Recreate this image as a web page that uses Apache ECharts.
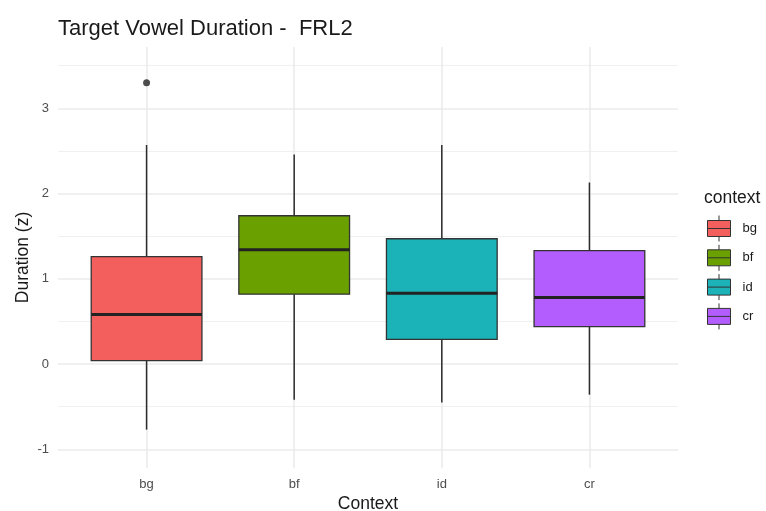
<!DOCTYPE html>
<html>
<head>
<meta charset="utf-8">
<title>Target Vowel Duration - FRL2</title>
<script src="https://cdn.jsdelivr.net/npm/echarts@6/dist/echarts.min.js"></script>
<style>
	html, body { margin: 0; padding: 0; background: #ffffff; }
	#box { width: 766px; height: 511px; }
</style>
</head>
<body>
<div id="box"></div>
<script>
// values
var categories = ['bg', 'bf', 'id', 'cr'];
var lowWhisker = [-0.77, -0.42, -0.45, -0.36];
var q1 = [0.04, 0.82, 0.29, 0.44];
var median = [0.58, 1.34, 0.83, 0.78];
var q3 = [1.26, 1.74, 1.47, 1.33];
var highWhisker = [2.57, 2.46, 2.57, 2.13];
var outliers = [['bg', 3.30]];
var colors = ['#F25F5C', '#6AA100', '#1BB3B8', '#B45DFF'];

var boxWidth = 0.75;
var fontFamily = '"Liberation Sans", Arial, sans-serif';

function renderBox(params, api) {
	var x = api.value(0);
	var half = api.size([boxWidth, 0])[0] / 2;
	var pLo = api.coord([x, api.value(1)]);
	var pQ1 = api.coord([x, api.value(2)]);
	var pMed = api.coord([x, api.value(3)]);
	var pQ3 = api.coord([x, api.value(4)]);
	var pHi = api.coord([x, api.value(5)]);
	var color = api.visual('color');
	return {
		type: 'group',
		children: [
			{
				type: 'line',
				shape: { x1: pLo[0], y1: pLo[1], x2: pQ1[0], y2: pQ1[1] },
				style: { stroke: '#2b2b2b', lineWidth: 1.5 }
			},
			{
				type: 'line',
				shape: { x1: pQ3[0], y1: pQ3[1], x2: pHi[0], y2: pHi[1] },
				style: { stroke: '#2b2b2b', lineWidth: 1.5 }
			},
			{
				type: 'rect',
				shape: { x: pQ3[0] - half, y: pQ3[1], width: half * 2, height: pQ1[1] - pQ3[1] },
				style: { fill: color, stroke: '#333333', lineWidth: 1.3 }
			},
			{
				type: 'line',
				shape: { x1: pMed[0] - half, y1: pMed[1], x2: pMed[0] + half, y2: pMed[1] },
				style: { stroke: '#222222', lineWidth: 3 }
			}
		]
	};
}

var series = [];
for (var i = 0; i < categories.length; i++) {
	series.push({
		name: categories[i],
		type: 'custom',
		xAxisIndex: 0,
		yAxisIndex: 0,
		renderItem: renderBox,
		encode: { x: 0, y: [1, 2, 3, 4, 5] },
		itemStyle: { color: colors[i], borderColor: '#333333', borderWidth: 1 },
		data: [[i + 1, lowWhisker[i], q1[i], median[i], q3[i], highWhisker[i]]],
		z: 3
	});
}

var outlierData = [];
for (var k = 0; k < outliers.length; k++) {
	outlierData.push([categories.indexOf(outliers[k][0]) + 1, outliers[k][1]]);
}
series.push({
	name: 'outlier',
	type: 'scatter',
	xAxisIndex: 0,
	yAxisIndex: 0,
	symbol: 'circle',
	symbolSize: 7,
	itemStyle: { color: '#222222' },
	data: outlierData,
	z: 4
});

// legend key: box with median and whisker stubs
var legendIcon = 'path://M0,5 L23,5 L23,21 L0,21 Z M0,13 L23,13 M11.5,0 L11.5,5 M11.5,21 L11.5,26';

var myChart = echarts.init(document.getElementById('box'), null, { renderer: 'canvas' });

var option = {
	backgroundColor: '#ffffff',
	animation: false,
	textStyle: { fontFamily: fontFamily },

	title: [
		{
			text: 'Target Vowel Duration -  FRL2',
			left: 53,
			top: 13,
			textStyle: { fontFamily: fontFamily, fontSize: 22, fontWeight: 'normal', color: '#1a1a1a' }
		},
		{
			text: 'context',
			left: 699,
			top: 184,
			textStyle: { fontFamily: fontFamily, fontSize: 17.5, fontWeight: 'normal', color: '#1a1a1a' }
		}
	],

	legend: {
		orient: 'vertical',
		left: 707,
		top: 215,
		padding: 0,
		itemWidth: 23,
		itemHeight: 26,
		itemGap: 2.3,
		icon: legendIcon,
		data: categories,
		itemStyle: { borderColor: '#333333', borderWidth: 1 },
		textStyle: { fontFamily: fontFamily, fontSize: 13, color: '#1a1a1a', padding: [0, 0, 0, 7] },
		selectedMode: false
	},

	grid: {
		left: 58,
		right: 88,
		top: 47,
		bottom: 43,
		containLabel: false,
		outerBoundsMode: 'none'
	},

	xAxis: {
		type: 'value',
		min: 0.4,
		max: 4.6,
		splitNumber: 4,
		name: 'Context',
		nameLocation: 'middle',
		nameGap: 27,
		nameMoveOverlap: false,
		nameTextStyle: { fontFamily: fontFamily, fontSize: 17.5, color: '#1a1a1a' },
		axisLine: { show: false },
		axisTick: { show: false },
		axisLabel: {
			margin: 10,
			fontSize: 13,
			color: '#4d4d4d',
			showMinLabel: false,
			showMaxLabel: false,
			formatter: function(v) {
				var idx = Math.round(v) - 1;
				if (Math.abs(v - Math.round(v)) > 1e-6) return '';
				return categories[idx] || '';
			}
		},
		splitLine: {
			show: true,
			showMinLine: false,
			showMaxLine: false,
			lineStyle: { color: '#ebebeb', width: 1.6 }
		}
	},

	yAxis: [
		{
			type: 'value',
			min: -1.22,
			max: 3.72,
			splitNumber: 5,
			name: 'Duration (z)',
			nameLocation: 'middle',
			nameGap: 26,
			nameMoveOverlap: false,
			nameRotate: 90,
			nameTextStyle: { fontFamily: fontFamily, fontSize: 17.5, color: '#1a1a1a' },
			axisLine: { show: false },
			axisTick: { show: false },
			axisLabel: {
				margin: 9,
				fontSize: 13,
				color: '#4d4d4d',
				showMinLabel: false,
				showMaxLabel: false
			},
			splitLine: {
				show: true,
				showMinLine: false,
				showMaxLine: false,
				lineStyle: { color: '#ebebeb', width: 1.6 }
			}
		},
		{
			// minor grid lines at the half steps
			type: 'value',
			min: -1.22,
			max: 3.72,
			splitNumber: 10,
			position: 'left',
			axisLine: { show: false },
			axisTick: { show: false },
			axisLabel: { show: false },
			splitLine: {
				show: true,
				showMinLine: false,
				showMaxLine: false,
				lineStyle: { color: '#f0f0f0', width: 1 }
			}
		}
	],

	series: series
};

myChart.setOption(option);
</script>
</body>
</html>
